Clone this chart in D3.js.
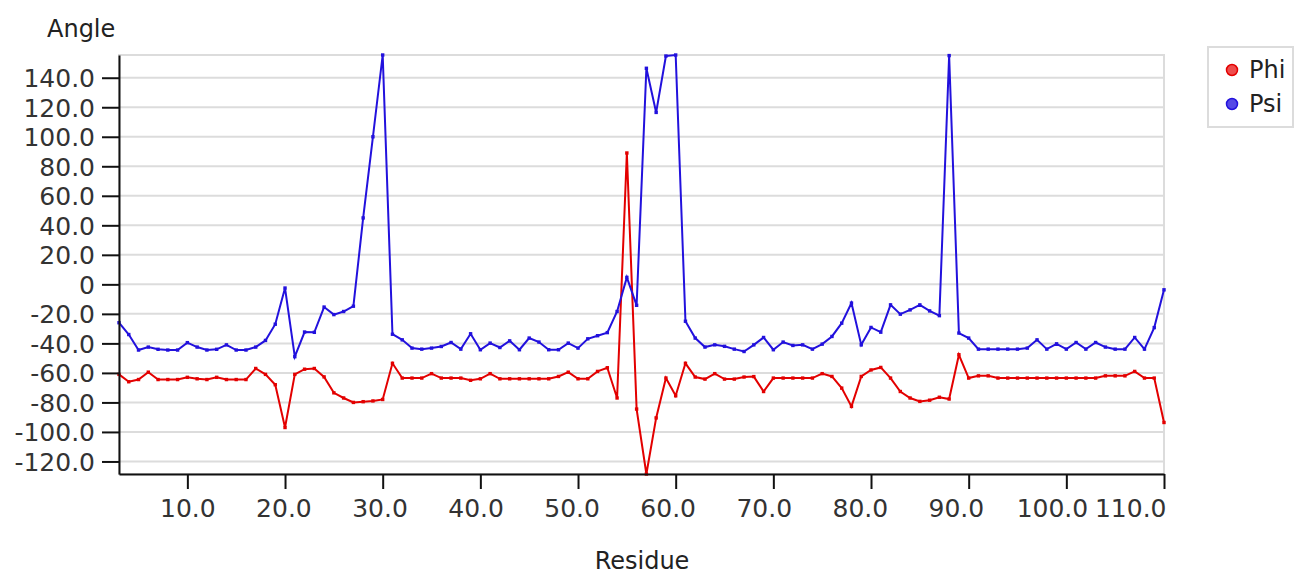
<!DOCTYPE html>
<html>
<head>
<meta charset="utf-8">
<script src="https://cdn.jsdelivr.net/npm/d3@7"></script>
<style>
	body { margin: 0; background: #fff; }
	text { font-family: "DejaVu Sans", sans-serif; }
</style>
</head>
<body>
<div id="chart"></div>
<script>

// residue numbers (x categories)
var residues = [3,4,5,6,7,8,9,10,11,12,
	13,14,15,16,17,18,19,20,21,22,
	23,24,25,26,27,28,29,30,31,32,
	33,34,35,36,37,38,39,40,41,42,
	43,44,45,46,47,48,49,50,51,52,
	53,54,55,56,57,58,59,60,61,62,
	63,64,65,66,67,68,69,70,71,72,
	73,74,75,76,77,78,79,80,81,82,
	83,84,85,86,87,88,89,90,91,92,
	93,94,95,96,97,98,99,100,101,102,
	103,104,105,106,107,108,109,110];

var phi = [-61,-66,-64.5,-59.5,-64.5,-64.5,-64.5,-63,-64,-64.5,
	-63,-64.5,-64.5,-64.5,-57,-61,-68,-97,-61,-57.5,
	-57,-62.7,-73.5,-77,-80,-79.5,-79,-78,-53.5,-63.5,
	-63.5,-63.5,-60.5,-63.5,-63.5,-63.5,-65,-64,-60.5,-64,
	-64,-64,-64,-64,-64,-62.4,-59.5,-64,-64,-59,
	-56.5,-77,89,-84.5,-128.5,-90.5,-63.5,-75.5,-53.5,-62.8,
	-64.2,-60.5,-64.2,-64.2,-62.8,-62.5,-72.6,-63.5,-63.5,-63.5,
	-63.5,-63.5,-60.5,-62.4,-70.3,-82.7,-62.4,-58,-56.3,-63.5,
	-72.6,-77,-79.3,-78.5,-76.5,-77.7,-47.7,-63.5,-62,-62,
	-63.5,-63.5,-63.5,-63.5,-63.5,-63.5,-63.5,-63.5,-63.5,-63.5,
	-63.5,-62,-62,-62,-59,-63.5,-63.5,-93.6];

var psi = [-26,-34,-44.5,-42.5,-44,-44.5,-44.5,-39.5,-42.5,-44.5,
	-44,-41,-44.5,-44.5,-42.5,-38,-27,-2.5,-49,-32.3,
	-32.5,-15.4,-20.5,-18.4,-14.8,45,100,155.4,-33.8,-37.6,
	-43.2,-43.9,-43.2,-42.1,-39.4,-43.9,-33.5,-44.3,-39.8,-42.8,
	-38.3,-44.3,-36.4,-39.1,-44.3,-44.3,-39.8,-43.2,-36.9,-34.8,
	-32.7,-18.4,4.7,-14.2,146.4,116.5,154.7,155.4,-25,-36.4,
	-42.5,-41,-42,-43.9,-45.5,-41,-36,-44.3,-39.1,-41.4,
	-41,-43.9,-40.5,-35.3,-26.3,-12.7,-41,-29.2,-32.4,-13.9,
	-20.2,-17.3,-13.9,-18,-21.2,155,-33,-36.4,-43.9,-43.9,
	-43.9,-43.9,-43.9,-43.2,-37.6,-43.9,-40.3,-43.9,-39.4,-43.9,
	-39.4,-42.5,-43.9,-43.9,-36,-43.9,-29.3,-3.7];

var seriesNames = ["Phi", "Psi"];
var xTicks = [10,20,30,40,50,60,70,80,90,100,110];
var yTicks = [-120,-100,-80,-60,-40,-20,0,20,40,60,80,100,120,140];

function init(){

	var w = 1294;
	var h = 577;
	var left = 119, right = 1164, top = 55, bottom = 474;

	var colors = ["#e30000", "#2211dd"];
	var fills = ["#ee4d4d", "#5548e6"];

	var all = phi.concat(psi);

	var xScale = d3.scaleLinear()
					.domain(d3.extent(residues))
					.range([left, right]);

	var yScale = d3.scaleLinear()
					.domain(d3.extent(all))   // data min / max
					.range([bottom, top]);

	var svg = d3.select("#chart")
				.append("svg")
				.attr("width", w)
				.attr("height", h);

	// plot frame (top / right light border)
	svg.append("rect")
		.attr("x", left)
		.attr("y", top)
		.attr("width", right - left)
		.attr("height", bottom - top)
		.attr("fill", "none")
		.attr("stroke", "#dcdcdc")
		.attr("stroke-width", 2);

	// horizontal grid
	svg.selectAll(".grid")
		.data(yTicks)
		.enter()
		.append("line")
		.attr("class", "grid")
		.attr("x1", left)
		.attr("x2", right)
		.attr("y1", function(d){ return yScale(d); })
		.attr("y2", function(d){ return yScale(d); })
		.attr("stroke", "#dcdcdc")
		.attr("stroke-width", 2);

	// lines
	var series = [phi, psi];
	var line = d3.line()
				.x(function(d, i){ return xScale(residues[i]); })
				.y(function(d){ return yScale(d); });

	series.forEach(function(s, k){
		svg.append("path")
			.datum(s)
			.attr("d", line)
			.attr("fill", "none")
			.attr("stroke", colors[k])
			.attr("stroke-width", 2);

		svg.append("g")
			.selectAll("rect")
			.data(s)
			.enter()
			.append("rect")
			.attr("x", function(d, i){ return xScale(residues[i]) - 1.7; })
			.attr("y", function(d){ return yScale(d) - 1.7; })
			.attr("width", 3.4)
			.attr("height", 3.4)
			.attr("fill", colors[k]);
	});

	// axes
	var xAxis = d3.axisBottom(xScale)
					.tickValues(xTicks)
					.tickSize(15)
					.tickSizeOuter(0)
					.tickFormat(function(d){ return d.toFixed(1); });

	var gx = svg.append("g")
		.attr("transform", "translate(0," + bottom + ")")
		.call(xAxis);

	var yAxis = d3.axisLeft(yScale)
					.tickValues(yTicks)
					.tickSize(17)
					.tickSizeOuter(0)
					.tickFormat(function(d){ return d == 0 ? "0" : d.toFixed(1); });

	var gy = svg.append("g")
		.attr("transform", "translate(" + left + ",0)")
		.call(yAxis);

	[gx, gy].forEach(function(g){
		g.select(".domain").attr("stroke", "#111").attr("stroke-width", 2);
		g.selectAll(".tick line").attr("stroke", "#111").attr("stroke-width", 2);
		g.selectAll(".tick text")
			.attr("fill", "#333")
			.style("font-family", "DejaVu Sans")
			.style("font-size", "25px");
	});

	// labels drift slightly left of their ticks in the original
	gx.selectAll(".tick text")
		.attr("dy", "1em")
		.attr("x", function(d){ return -(d - 10) * 0.16; });
	gy.selectAll(".tick text").attr("x", -24).attr("dy", "0.36em");

	// last x label sits inside the plot edge
	gx.selectAll(".tick")
		.filter(function(d){ return d == 110; })
		.select("text")
		.attr("text-anchor", "end")
		.attr("x", 2);

	// axis titles
	svg.append("text")
		.attr("x", 47)
		.attr("y", 37)
		.attr("fill", "#222")
		.style("font-size", "24px")
		.text("Angle");

	svg.append("text")
		.attr("x", 642)
		.attr("y", 569)
		.attr("text-anchor", "middle")
		.attr("fill", "#222")
		.style("font-size", "24px")
		.text("Residue");

	// legend
	var lg = svg.append("g");
	lg.append("rect")
		.attr("x", 1208)
		.attr("y", 47)
		.attr("width", 85)
		.attr("height", 80)
		.attr("fill", "#fff")
		.attr("stroke", "#dcdcdc")
		.attr("stroke-width", 2);

	lg.selectAll("circle")
		.data(seriesNames)
		.enter()
		.append("circle")
		.attr("cx", 1232)
		.attr("cy", function(d, i){ return 70 + i * 34; })
		.attr("r", 5.5)
		.attr("fill", function(d, i){ return fills[i]; })
		.attr("stroke", function(d, i){ return colors[i]; })
		.attr("stroke-width", 1.5);

	lg.selectAll(".lgtext")
		.data(seriesNames)
		.enter()
		.append("text")
		.attr("class", "lgtext")
		.attr("x", 1249)
		.attr("y", function(d, i){ return 78 + i * 34; })
		.attr("fill", "#222")
		.style("font-size", "24px")
		.text(function(d){ return d; });

}

window.onload = init;
</script>
</body>
</html>
